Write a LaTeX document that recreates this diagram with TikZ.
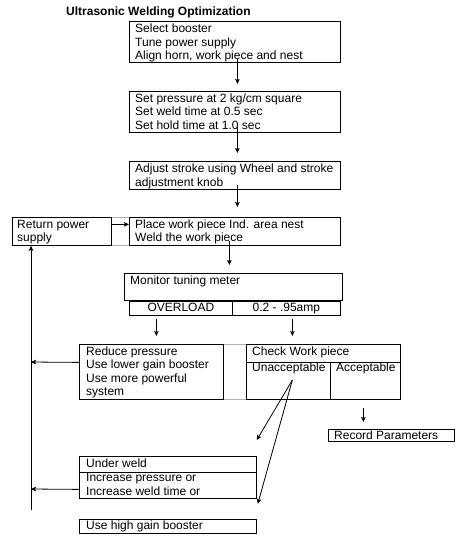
\documentclass[tikz,border=0pt]{standalone}
\usepackage{fontspec}
\setmainfont{Liberation Sans}
\usetikzlibrary{arrows.meta}
\begin{document}
\begin{tikzpicture}[x=1pt,y=-1pt,
 box/.style={draw, line width=0.8pt, inner sep=0pt, anchor=north west},
 gline/.style={draw=black!30, line width=0.8pt},
 txt/.style={anchor=base west, inner sep=0pt, font=\fontsize{12}{13.5}\selectfont},
 ctxt/.style={anchor=base, inner sep=0pt, font=\fontsize{12}{13.5}\selectfont},
 arr/.style={line width=0.8pt, -{Stealth[length=5pt,width=4.5pt,inset=1pt]}},
 ln/.style={line width=0.8pt}]
\useasboundingbox (0,0) rectangle (462,542);
\fill[white] (0,0) rectangle (462,542);
% title
\node[anchor=base west, inner sep=0pt, font=\bfseries\fontsize{12}{14}\selectfont] (title) at (66,15) {Ultrasonic Welding Optimization};
% boxes
\node[box, minimum width=211pt, minimum height=41pt] (b1) at (129,21) {};
\node[box, minimum width=211pt, minimum height=41pt] (b2) at (129,91) {};
\node[box, minimum width=211pt, minimum height=28pt] (b3) at (129,161) {};
\node[box, minimum width=99pt, minimum height=28pt] (ret) at (12,217) {};
\node[box, minimum width=211pt, minimum height=28pt] (place) at (129,217) {};
\node[box, minimum width=218pt, minimum height=27pt] (mon) at (124,273) {};
\node[box, minimum width=103pt, minimum height=14pt] (ov) at (129,301) {};
\node[box, minimum width=108pt, minimum height=14pt] (amp) at (232,301) {};
\node[box, minimum width=144pt, minimum height=55pt] (red) at (79,344) {};
\node[box, minimum width=154pt, minimum height=18pt] (chk) at (246,344) {};
\node[box, minimum width=84pt, minimum height=37pt] (unacc) at (246,362) {};
\node[box, minimum width=70pt, minimum height=37pt] (acc) at (330,362) {};
\node[box, minimum width=126pt, minimum height=12pt] (rec) at (328,429) {};
\node[box, minimum width=177pt, minimum height=16pt] (uw) at (79,456) {};
\node[box, minimum width=177pt, minimum height=26pt] (inc) at (79,472) {};
\node[box, minimum width=177pt, minimum height=14pt] (hg) at (79,519) {};
% gray table lines
\draw[gline] (ret.north east) -- (place.north west);
\draw[gline] (ret.south east) -- (place.south west);
\draw[gline] (red.north east) -- (chk.north west);
\draw[gline] (red.south east) -- (unacc.south west);
% texts
\node[txt] (t1a) at (135,32.5) {Select booster};
\node[txt] (t1b) at (135,46) {Tune power supply};
\node[txt] (t1c) at (135,59.5) {Align horn, work piece and nest};
\node[txt] (t2a) at (135,102) {Set pressure at 2 kg/cm square};
\node[txt] (t2b) at (135,115.5) {Set weld time at 0.5 sec};
\node[txt] (t2c) at (135,129) {Set hold time at 1.0 sec};
\node[txt] (t3a) at (135,172) {Adjust stroke using Wheel and stroke};
\node[txt] (t3b) at (135,186) {adjustment knob};
\node[txt] (t4a) at (17,228) {Return power};
\node[txt] (t4b) at (17,241.5) {supply};
\node[txt] (t5a) at (135,228) {Place work piece Ind. area nest};
\node[txt] (t5b) at (135,241.5) {Weld the work piece};
\node[txt] (t6) at (130,284) {Monitor tuning meter};
\node[ctxt] (t7) at (ov.center |- 0,311.5) {OVERLOAD};
\node[ctxt] (t8) at (amp.center |- 0,311.5) {0.2 - .95amp};
\node[txt] (t9a) at (86,355) {Reduce pressure};
\node[txt] (t9b) at (86,368.5) {Use lower gain booster};
\node[txt] (t9c) at (86,382) {Use more powerful};
\node[txt] (t9d) at (86,395.5) {system};
\node[txt] (t10) at (252,355) {Check Work piece};
\node[txt] (t11) at (252,371.5) {Unacceptable};
\node[txt] (t12) at (336,371.5) {Acceptable};
\node[txt] (t13) at (334,439) {Record Parameters};
\node[txt] (t14a) at (86,467) {Under weld};
\node[txt] (t14b) at (86,481) {Increase pressure or};
\node[txt] (t14c) at (86,495) {Increase weld time or};
\node[txt] (t15) at (86,529) {Use high gain booster};
% connectors
\coordinate (vb) at (31,510);
\coordinate (j1) at (31,362);
\coordinate (j2) at (31,489);
\draw[arr] ([xshift=2.5pt,yshift=4pt]b1.south) -- ([xshift=2.5pt,yshift=7pt]b2.north);
\draw[arr] ([xshift=2.5pt,yshift=6pt]b2.south) -- ([xshift=2.5pt,yshift=8pt]b3.north);
\draw[arr] ([xshift=2.5pt,yshift=5pt]b3.south) -- ([xshift=2.5pt,yshift=10pt]place.north);
\draw[arr] ([yshift=7pt]ret.east) -- ([yshift=7pt]place.west);
\draw[arr] ([xshift=-5.5pt,yshift=5pt]place.south) -- ([xshift=-4pt,yshift=8pt]mon.north);
\draw[arr] ([xshift=-24.5pt,yshift=-3pt]ov.south) -- ([xshift=5pt,yshift=8pt]red.north);
\draw[arr] ([xshift=6pt,yshift=-3pt]amp.south) -- ([xshift=-31pt,yshift=8pt]chk.north);
\draw[arr] ([xshift=4pt,yshift=1pt]unacc.center) -- ([yshift=16pt]uw.north east);
\draw[arr] ([xshift=4pt,yshift=1pt]unacc.center) -- ([xshift=1pt,yshift=-5pt]inc.south east);
\draw[arr] ([xshift=-2pt,yshift=-8pt]acc.south) -- ([xshift=-28pt,yshift=7pt]rec.north);
\draw[arr] (vb) -- (vb |- ret.south);
\draw[arr] ([yshift=9.5pt]red.west) -- (j1);
\draw[arr] ([yshift=-4pt]inc.west) -- (j2);
\end{tikzpicture}
\end{document}
